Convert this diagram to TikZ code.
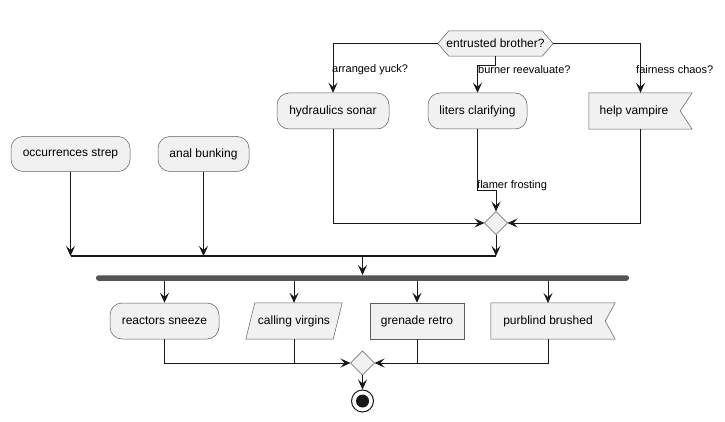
\documentclass[tikz,border=0pt]{standalone}
\usepackage{fontspec}
\setmainfont{Liberation Sans}
\usetikzlibrary{arrows.meta,calc}
\definecolor{boxfill}{HTML}{F1F1F1}
\definecolor{boxline}{HTML}{181818}
\definecolor{barcol}{HTML}{555555}
\tikzset{
  act/.style={draw=boxline!70, line width=0.5pt, fill=boxfill, rounded corners=12pt, inner sep=0pt, font=\fontsize{12pt}{14pt}\selectfont},
  plain/.style={inner sep=0pt, font=\fontsize{12pt}{14pt}\selectfont},
  shp/.style={draw=boxline!70, line width=0.5pt, fill=boxfill},
  conn/.style={draw=boxline, line width=1pt},
  arr/.style={conn, -{Stealth[length=10pt,width=9pt,inset=4pt]}},
  lbl/.style={inner sep=0pt, anchor=west, font=\fontsize{11pt}{13pt}\selectfont},
}
\begin{document}
\begin{tikzpicture}[x=1pt,y=-1pt]
\useasboundingbox[fill=white] (0,0) rectangle (725,422);

% decision hexagon
\node[plain, minimum width=115pt, minimum height=25pt] (dec) at (495.5,43.5) {};
\draw[shp] (dec.west) -- ($(dec.north west)+(11,0)$) -- ($(dec.north east)+(-11,0)$) -- (dec.east) -- ($(dec.south east)+(-11,0)$) -- ($(dec.south west)+(11,0)$) -- cycle;
\node[plain] (dectext) at (dec) {entrusted brother?};

% branch activities
\node[act, minimum width=112pt, minimum height=36pt] (hs) at (333,111) {hydraulics sonar};
\node[act, minimum width=99pt, minimum height=36pt] (lc) at (477.5,111) {liters clarifying};
\node[plain, minimum width=103pt, minimum height=36pt] (hv) at (640.5,111) {};
\draw[shp] (hv.north west) -- (hv.north east) -- ($(hv.east)+(-12,0)$) -- (hv.south east) -- (hv.south west) -- cycle;
\node[plain] (hvtext) at (634,111) {help vampire};

% merge diamond 1
\coordinate (m1) at (496,223);
\draw[shp] ($(m1)+(-11.5,0)$) coordinate (m1w) -- ($(m1)+(0,-11.5)$) coordinate (m1n) -- ($(m1)+(11.5,0)$) coordinate (m1e) -- ($(m1)+(0,11.5)$) coordinate (m1s) -- cycle;

% left activities
\node[act, minimum width=119pt, minimum height=35pt] (os) at (70.5,154) {occurrences strep};
\node[act, minimum width=91pt, minimum height=35pt] (ab) at (203.5,154) {anal bunking};

% join line
\coordinate (jl) at (70.5,256);
\coordinate (jr) at (496,256);
\coordinate (jm) at (362.5,256);

% fork bar
\node[fill=barcol, rounded corners=2.5pt, minimum width=533pt, minimum height=5.5pt, inner sep=0pt] (bar) at (362.5,278) {};

% bottom activities
\node[act, minimum width=109pt, minimum height=36pt] (rs) at (164.5,321) {reactors sneeze};
\node[plain, minimum width=96pt, minimum height=36pt] (cv) at (294,321) {};
\draw[shp] ($(cv.north west)+(9,0)$) -- (cv.north east) -- ($(cv.south east)+(-9,0)$) -- (cv.south west) -- cycle;
\node[plain] (cvtext) at (cv) {calling virgins};
\node[shp, inner sep=0pt, minimum width=94pt, minimum height=36pt, font=\fontsize{12pt}{14pt}\selectfont] (gr) at (417,321) {grenade retro};
\node[plain, minimum width=124pt, minimum height=36pt] (pb) at (553,321) {};
\draw[shp] (pb.north west) -- (pb.north east) -- ($(pb.east)+(-10,0)$) -- (pb.south east) -- (pb.south west) -- cycle;
\node[plain] (pbtext) at (548,321) {purblind brushed};
\coordinate (pbtop) at (548,303);
\coordinate (pbbot) at (548,339);

% merge diamond 2
\coordinate (m2) at (362.5,363);
\draw[shp] ($(m2)+(-12,0)$) coordinate (m2w) -- ($(m2)+(0,-12)$) coordinate (m2n) -- ($(m2)+(12,0)$) coordinate (m2e) -- ($(m2)+(0,12)$) coordinate (m2s) -- cycle;

% end node
\node[circle, draw=boxline, line width=1pt, fill=white, minimum size=22pt, inner sep=0pt] (end) at (362.5,401) {};
\fill[boxline] (end) circle (6.5pt);

% connectors from decision
\draw[arr] (dec.west) -| (hs.north);
\node[lbl] at (332,70) {arranged yuck?};
\draw[arr] (dec.south) -- ++(0,9) -| (lc.north);
\node[lbl] at (478,70) {burner reevaluate?};
\draw[arr] (dec.east) -| (hv.north);
\node[lbl] at (636,70) {fairness chaos?};

% into merge 1
\draw[arr] (hs.south) |- (m1w);
\draw[arr] (hv.south) |- (m1e);
\draw[arr] (lc.south) -- ++(0,61) -| (m1n);
\node[lbl] at (477,186) {flamer frosting};

% down to join
\draw[arr] (m1s) -- (jr);
\draw[arr] (os.south) -- (jl);
\draw[arr] (ab.south) -- (ab.south |- jl);
\draw[conn, line width=1.3pt] (jl) -- (jr);
\draw[arr] (jm) -- (bar.north -| jm);

% fork to bottom activities
\draw[arr] (bar.south -| rs.north) -- (rs.north);
\draw[arr] (bar.south -| cv.north) -- (cv.north);
\draw[arr] (bar.south -| gr.north) -- (gr.north);
\draw[arr] (bar.south -| pbtop) -- (pbtop);

% into merge 2
\draw[arr] (rs.south) |- (m2w);
\draw[conn] (cv.south) -- (cv.south |- m2w);
\draw[arr] (pbbot) |- (m2e);
\draw[conn] (gr.south) -- (gr.south |- m2e);
\draw[arr] (m2s) -- (end.north);
\end{tikzpicture}
\end{document}
